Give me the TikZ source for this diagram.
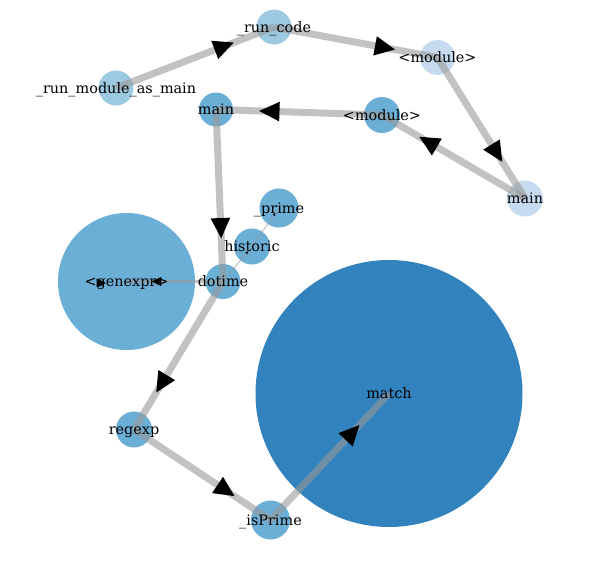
\documentclass[tikz,border=0pt]{standalone}
\usepackage{fontspec}
\setmainfont{DejaVu Serif}
\usetikzlibrary{decorations.markings}
\definecolor{pale}{HTML}{C6DBEF}
\definecolor{light}{HTML}{9ECAE1}
\definecolor{mid}{HTML}{6BAED6}
\definecolor{deep}{HTML}{3182BD}
\definecolor{linkgray}{HTML}{999999}
\begin{document}
\begin{tikzpicture}[
x=1pt, y=-1pt,
vertex/.style={circle, inner sep=0pt, draw=none, minimum size=#1},
vertex/.default=35pt,
link/.style={draw=linkgray, draw opacity=0.6, line width=#1},
link/.default=7pt,
arrowat/.style 2 args={postaction={decorate, decoration={markings,
    mark=at position #1 with {\fill[black, scale=#2] (-1.5pt,-1.4pt) -- (1.4pt,0pt) -- (-1.5pt,1.4pt) -- cycle;}}}},
lbl/.style={font=\fontsize{14.4}{16}\selectfont, anchor=base, yshift=-5pt, inner sep=0pt}
]
\useasboundingbox (0,0) rectangle (589,573);

% circles
\node[vertex, fill=light] (runmod) at (116,88) {};
\node[vertex, fill=light] (runcode) at (274,27) {};
\node[vertex, fill=pale] (modA) at (437.5,57.5) {};
\node[vertex, fill=pale, minimum size=36pt] (mainB) at (525,198.5) {};
\node[vertex, fill=mid, minimum size=36pt] (modB) at (382,115) {};
\node[vertex, fill=mid, minimum size=34pt] (mainA) at (216,109.5) {};
\node[vertex, fill=mid, minimum size=39pt] (prime) at (279,208) {};
\node[vertex, fill=mid, minimum size=36pt] (historic) at (252,246.5) {};
\node[vertex, fill=mid] (dotime) at (223,281.5) {};
\node[vertex, fill=mid, minimum size=137pt] (genexpr) at (126.5,281.5) {};
\node[vertex, fill=deep, minimum size=267pt] (match) at (389,393.5) {};
\node[vertex, fill=mid, minimum size=36pt] (regexp) at (134,429.5) {};
\node[vertex, fill=mid, minimum size=39pt] (isprime) at (270.5,520) {};

% calls
\draw[link, arrowat={-53pt}{7}] (runmod.center) -- (runcode.center);
\draw[link, arrowat={-53pt}{7}] (runcode.center) -- (modA.center);
\draw[link, arrowat={-53pt}{7}] (modA.center) -- (mainB.center);
\draw[link, arrowat={-53pt}{7}] (mainB.center) -- (modB.center);
\draw[link, arrowat={-53pt}{7}] (modB.center) -- (mainA.center);
\draw[link, arrowat={-53pt}{7}] (mainA.center) -- (dotime.center);
\draw[link, arrowat={-53pt}{7}] (dotime.center) -- (regexp.center);
\draw[link, arrowat={-53pt}{7}] (regexp.center) -- (isprime.center);
\draw[link, arrowat={-53pt}{7}] (isprime.center) -- (match.center);
\draw[link=3pt, arrowat={-30pt}{3.3}] (dotime.center) -- (genexpr.center);
\draw[link=1pt, arrowat={-7.5pt}{1}] (dotime.center) -- (historic.center);
\draw[link=1pt, arrowat={-7.5pt}{1}] (historic.center) -- (prime.center);
\fill[black] ([xshift=-25pt, yshift=-1.5pt]genexpr.center) ++(-5pt,-4.6pt) -- ++(9.5pt,4.6pt) -- ++(-9.5pt,4.6pt) -- cycle;

% names
\node[lbl] (runmod-t) at (runmod) {\_run\_module\_as\_main};
\node[lbl] (runcode-t) at (runcode) {\_run\_code};
\node[lbl] (modA-t) at (modA) {<module>};
\node[lbl] (mainB-t) at (mainB) {main};
\node[lbl] (modB-t) at (modB) {<module>};
\node[lbl] (mainA-t) at (mainA) {main};
\node[lbl] (prime-t) at (prime) {\_prime};
\node[lbl] (historic-t) at (historic) {historic};
\node[lbl] (dotime-t) at (dotime) {dotime};
\node[lbl] (genexpr-t) at (genexpr) {<genexpr>};
\node[lbl] (match-t) at (match) {match};
\node[lbl] (regexp-t) at (regexp) {regexp};
\node[lbl] (isprime-t) at (isprime) {\_isPrime};
\end{tikzpicture}
\end{document}
